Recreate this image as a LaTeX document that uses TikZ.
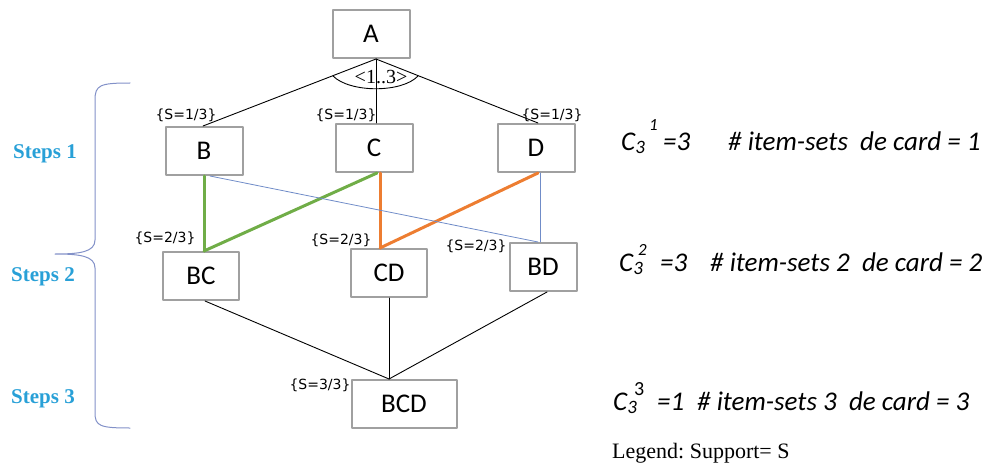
\documentclass[tikz,border=0pt]{standalone}
\usepackage{fontspec}
\newfontfamily\boxfont{Carlito}
\newfontfamily\lblfont{DejaVu Sans}
\newfontfamily\serfont{Liberation Serif}
\definecolor{boxgray}{RGB}{160,160,160}
\definecolor{lgreen}{RGB}{112,173,71}
\definecolor{lorange}{RGB}{237,125,49}
\definecolor{lblue}{RGB}{112,140,200}
\definecolor{stepblue}{RGB}{40,160,215}
\definecolor{bracecol}{RGB}{130,145,200}
\frenchspacing
\begin{document}
\begin{tikzpicture}[x=1pt, y=-1pt, line join=round, line cap=round,
		item/.style={draw=boxgray, line width=2pt, fill=white, minimum height=48pt, minimum width=77pt, inner sep=0pt, font=\boxfont\fontsize{27}{30}\selectfont},
		supp/.style={font=\lblfont\fontsize{14}{16}\selectfont, inner sep=0pt},
		stepl/.style={font=\serfont\bfseries\fontsize{21}{24}\selectfont, text=stepblue, inner sep=0pt},
		card/.style={font=\boxfont\itshape\fontsize{27}{30}\selectfont, inner sep=0pt, anchor=base west},
		link/.style={line width=0.9pt},
		pairg/.style={lgreen, line width=3pt},
		pairo/.style={lorange, line width=3pt},
		pairb/.style={lblue, line width=0.8pt}]
		\useasboundingbox (0,0) rectangle (992,468);
		% lattice of item-sets
		\node[item] (A) at (371,34) {A};
		\node[item] (B) at (204,151) {B};
		\node[item] (C) at (374,148) {C};
		\node[item] (D) at (536,148) {D};
		\node[item, minimum width=76pt] (BC) at (201,276) {BC};
		\node[item, minimum width=76pt] (CD) at (389,273) {CD};
		\node[item, minimum width=67pt] (BD) at (543,267) {BD};
		\node[item, minimum width=105pt] (BCD) at (404,404) {BCD};
		\coordinate (top) at ([xshift=5pt]A.south);
		\coordinate (bot) at (BCD.north -| CD.south);
		% level 1
		\draw[link] (top) -- ([xshift=-1pt]B.north);
		\draw[link] (top) -- (top |- C.north);
		\draw[link] (top) -- ([xshift=2pt]D.north);
		\draw[link] ([shift={(-43,17)}]top) .. controls ([shift={(-26,34)}]top) and ([shift={(26,34)}]top) .. ([shift={(42,17)}]top);
		\node[font=\serfont\fontsize{20}{22}\selectfont, inner sep=0pt] (rng) at ([shift={(5,18)}]top) {<1..3>};
		% level 2
		\draw[pairg] (B.south) -- (B.south |- BC.north);
		\draw[pairg] ([xshift=3pt]C.south) -- (B.south |- BC.north);
		\draw[pairo] ([xshift=6pt]C.south) -- ([xshift=6pt]C.south |- CD.north);
		\draw[pairo] ([xshift=2pt]D.south) -- ([xshift=6pt]C.south |- CD.north);
		\draw[pairb] ([xshift=6pt]B.south) -- ([xshift=-5pt]BD.north);
		\draw[pairb] ([xshift=4pt]D.south) -- ([xshift=-3pt]BD.north);
		% level 3
		\draw[link] ([xshift=4pt]BC.south) -- (bot);
		\draw[link] (CD.south) -- (bot);
		\draw[link] ([xshift=4pt]BD.south) -- (bot);
		% supports
		\node[supp] (sB) at (186,115) {\{S=1/3\}};
		\node[supp] (sC) at (346,115) {\{S=1/3\}};
		\node[supp] (sD) at (552,115) {\{S=1/3\}};
		\node[supp] (sBC) at (165,238) {\{S=2/3\}};
		\node[supp] (sCD) at (341,240) {\{S=2/3\}};
		\node[supp] (sBD) at (476,246) {\{S=2/3\}};
		\node[supp] (sBCD) at (320,385) {\{S=3/3\}};
		% steps
		\draw[bracecol, line width=1pt] (130,83) .. controls (100,83) and (95,85) .. (95,100) -- (95,240) .. controls (95,252) and (80,254) .. (55,254)
			.. controls (80,254) and (95,256) .. (95,268) -- (95,413) .. controls (95,426) and (100,428) .. (130,428);
		\node[stepl] (s1) at (45,154) {Steps 1};
		\node[stepl] (s2) at (43,277) {Steps 2};
		\node[stepl] (s3) at (43,399) {Steps 3};
		% cardinalities
		\node[card] (c1) at (621,150) {C\textsubscript{3}};
		\node[card, font=\boxfont\itshape\fontsize{17}{18}\selectfont] (e1) at (649,131) {1};
		\node[card] (q1) at (663,150) {=3};
		\node[card] (t1) at (728,150) {\# item-sets\ \ de card = 1};
		\node[card] (c2) at (619,271) {C\textsubscript{3}};
		\node[card, font=\boxfont\itshape\fontsize{17}{18}\selectfont] (e2) at (638,255) {2};
		\node[card] (q2) at (660,271) {=3};
		\node[card] (t2) at (710,271) {\# item-sets 2\ \ de card = 2};
		\node[card] (c3) at (613,410) {C\textsubscript{3}};
		\node[card, font=\boxfont\fontsize{20}{22}\selectfont] (e3) at (634,395) {3};
		\node[card] (q3) at (657,410) {=1};
		\node[card] (t3) at (697,410) {\# item-sets 3\ \ de card = 3};
		\node[font=\serfont\fontsize{22}{24}\selectfont, inner sep=0pt, anchor=base west] (leg) at (612,458) {Legend: Support= S};
\end{tikzpicture}
\end{document}
